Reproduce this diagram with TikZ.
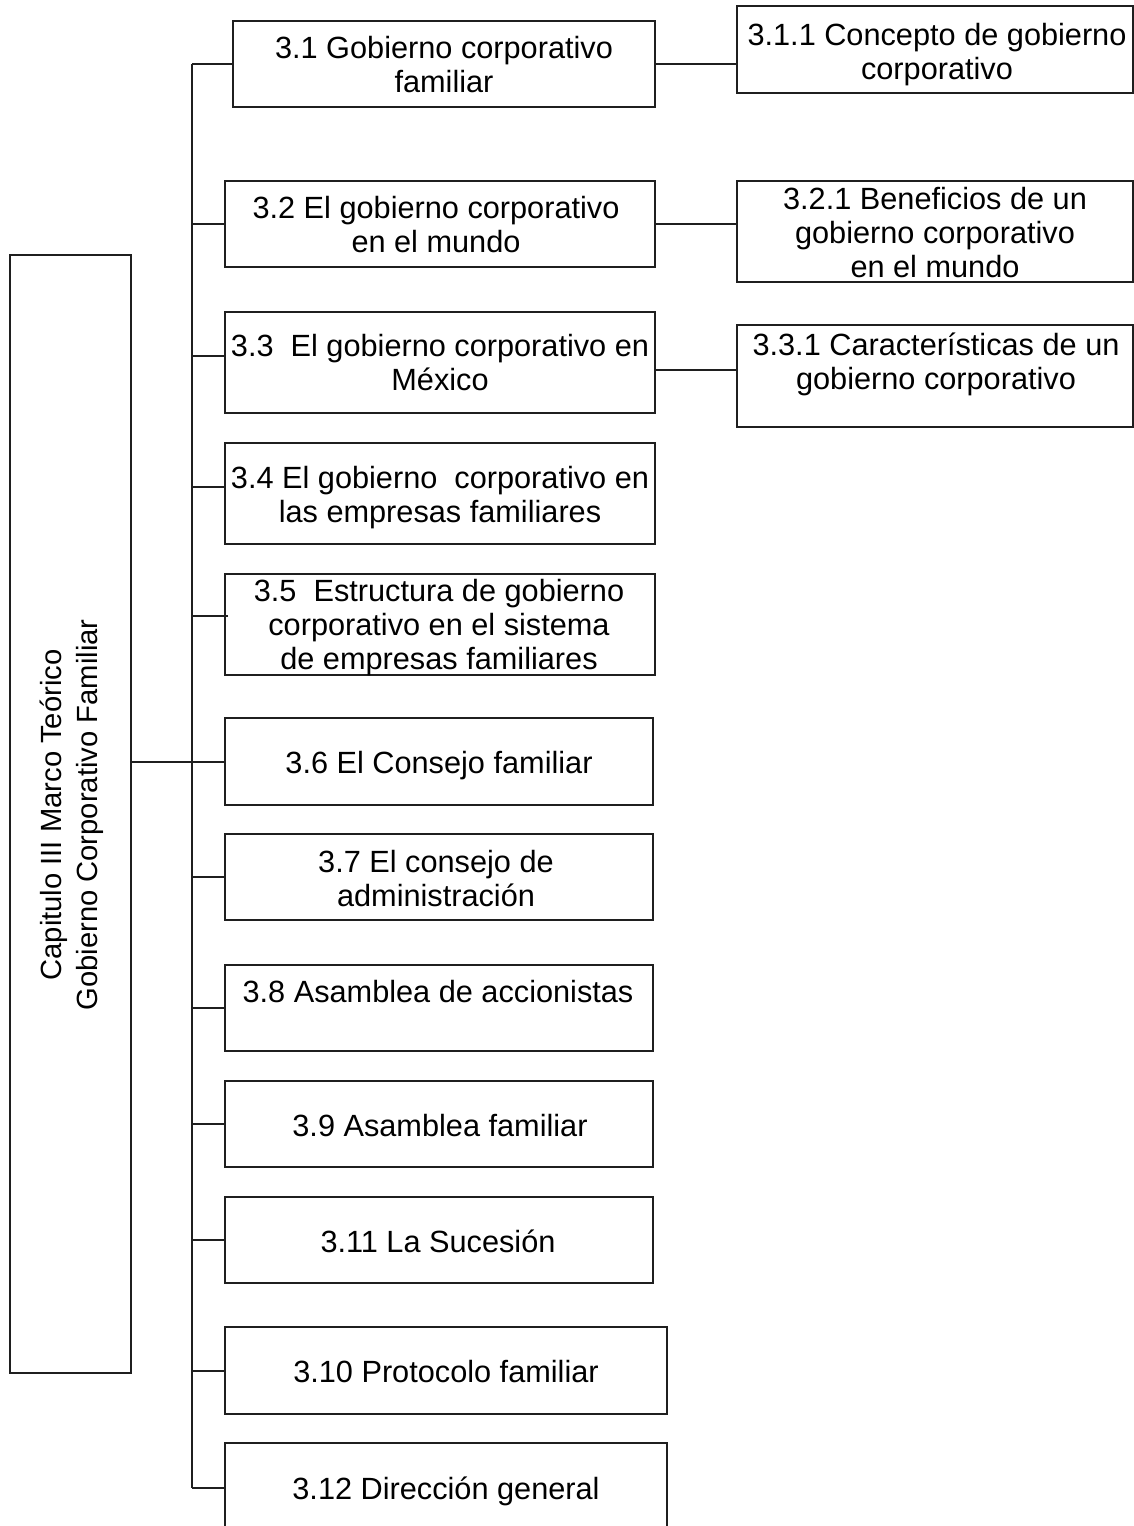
\documentclass[tikz,border=0pt]{standalone}
\usepackage{fontspec}
\setmainfont{Liberation Sans}
\usetikzlibrary{fit,calc}
\begin{document}
\begin{tikzpicture}[x=0.5pt,y=-0.5pt,
  box/.style={draw=black!88, line width=1pt, inner sep=0pt, rectangle},
  txt/.style={align=center, anchor=base, inner sep=0pt, font=\fontsize{15.35}{17}\selectfont},
  ltxt/.style={align=center, anchor=base, inner sep=0pt, font=\fontsize{14.6}{17.5}\selectfont},
  lnk/.style={draw=black!88, line width=1pt}]
\useasboundingbox (0,0) rectangle (1134,1526);
% boxes
\node[box, fit={(10,255) (131,1373)}] (L) {};
\node[box, fit={(233,21) (655,107)}] (b31) {};
\node[box, fit={(737,6) (1133,93)}] (b311) {};
\node[box, fit={(225,181) (655,267)}] (b32) {};
\node[box, fit={(737,181) (1133,282)}] (b321) {};
\node[box, fit={(225,312) (655,413)}] (b33) {};
\node[box, fit={(737,325) (1133,427)}] (b331) {};
\node[box, fit={(225,443) (655,544)}] (b34) {};
\node[box, fit={(225,574) (655,675)}] (b35) {};
\node[box, fit={(225,718) (653,805)}] (b36) {};
\node[box, fit={(225,834) (653,920)}] (b37) {};
\node[box, fit={(225,965) (653,1051)}] (b38) {};
\node[box, fit={(225,1081) (653,1167)}] (b39) {};
\node[box, fit={(225,1197) (653,1283)}] (b311s) {};
\node[box, fit={(225,1327) (667,1414)}] (b310) {};
\node[box, fit={(225,1443) (667,1530)}] (b312) {};
% texts
\node[ltxt, rotate=90] (tL) at (97,815) {Capitulo III Marco Teórico\\Gobierno Corporativo Familiar};
\node[txt] (t31) at (444,92) {3.1 Gobierno corporativo\\familiar};
\node[txt] (t311) at (937,79) {3.1.1 Concepto de gobierno\\corporativo};
\node[txt] (t32) at (436,252) {3.2 El gobierno corporativo\\en el mundo};
\node[txt] (t321) at (935,277) {3.2.1 Beneficios de un\\gobierno corporativo\\en el mundo};
\node[txt] (t33) at (440,390) {3.3\ \ El gobierno corporativo en\\México};
\node[txt] (t331) at (936,389) {3.3.1 Características de un\\gobierno corporativo};
\node[txt] (t34) at (440,522) {3.4 El gobierno\ \ corporativo en\\las empresas familiares};
\node[txt] (t35) at (439,669) {3.5\ \ Estructura de gobierno\\corporativo en el sistema\\de empresas familiares};
\node[txt] (t36) at (439,773) {3.6 El Consejo familiar};
\node[txt] (t37) at (436,906) {3.7 El consejo de\\administración};
\node[txt] (t38) at (438,1002) {3.8 Asamblea de accionistas};
\node[txt] (t39) at (440,1136) {3.9 Asamblea familiar};
\node[txt] (t311s) at (438,1252) {3.11 La Sucesión};
\node[txt] (t310) at (446,1382) {3.10 Protocolo familiar};
\node[txt] (t312) at (446,1499) {3.12 Dirección general};
% trunk
\coordinate (ttop) at (192,64);
\coordinate (tbot) at (192,1488);
\draw[lnk] (ttop) -- (tbot);
% left box to trunk and 3.6
\draw[lnk] (b36.west -| L.east) -- (b36.west);
% branches
\draw[lnk] (b31.west) -- (b31.west -| ttop);
\draw[lnk] (b32.west) -- (b32.west -| ttop);
\draw[lnk] ($(b33.west)+(0,-6.5)$) -- ($(b33.west -| ttop)+(0,-6.5)$);
\draw[lnk] ($(b34.west)+(0,-6.5)$) -- ($(b34.west -| ttop)+(0,-6.5)$);
\draw[lnk] ($(b35.west)+(4,-8.5)$) -- ($(b35.west -| ttop)+(0,-8.5)$);
\draw[lnk] (b37.west) -- (b37.west -| ttop);
\draw[lnk] (b38.west) -- (b38.west -| ttop);
\draw[lnk] (b39.west) -- (b39.west -| ttop);
\draw[lnk] (b311s.west) -- (b311s.west -| ttop);
\draw[lnk] (b310.west) -- (b310.west -| ttop);
\draw[lnk] ($(b312.west)+(0,1.5)$) -- (tbot);
% right connectors
\draw[lnk] (b31.east) -- (b31.east -| b311.west);
\draw[lnk] (b32.east) -- (b32.east -| b321.west);
\draw[lnk] ($(b331.west)+(0,-6)$) -- ($(b331.west -| b33.east)+(0,-6)$);
\end{tikzpicture}
\end{document}
